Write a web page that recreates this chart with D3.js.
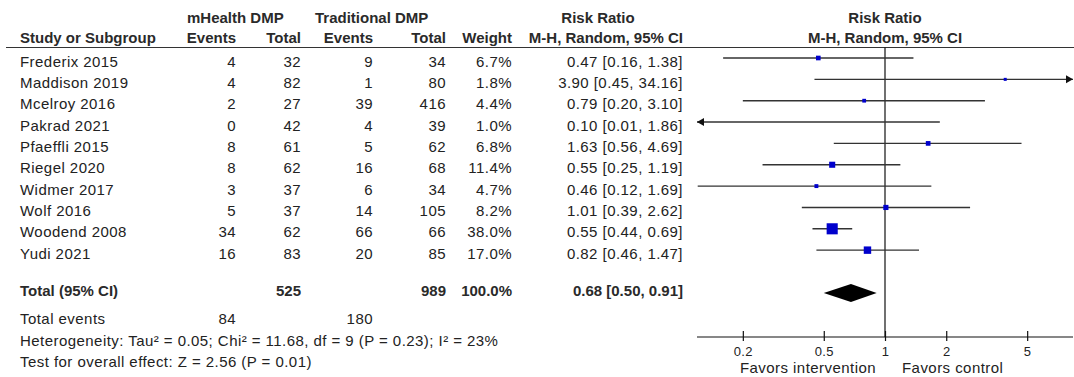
<!DOCTYPE html>
<html>
<head>
<meta charset="utf-8">
<script src="https://cdn.jsdelivr.net/npm/d3@7"></script>
<style>
  body { margin: 0; background: #fff; }
  svg { display: block; font-family: "Liberation Sans", Arial, sans-serif; }
  .t { font-size: 15px; fill: #222; letter-spacing: 0.45px; }
  .b { font-size: 15px; font-weight: 700; fill: #2a2a2a; }
</style>
</head>
<body>
<svg id="chart" width="1074" height="377"></svg>
<script>
// données
const studies = ['Frederix 2015', 'Maddison 2019', 'Mcelroy 2016', 'Pakrad 2021', 'Pfaeffli 2015',
  'Riegel 2020', 'Widmer 2017', 'Wolf 2016', 'Woodend 2008', 'Yudi 2021'];
const mEvents = [4, 4, 2, 0, 8, 8, 3, 5, 34, 16];
const mTotal = [32, 82, 27, 42, 61, 62, 37, 37, 62, 83];
const tEvents = [9, 1, 39, 4, 5, 16, 6, 14, 66, 20];
const tTotal = [34, 80, 416, 39, 62, 68, 34, 105, 66, 85];
const weights = [6.7, 1.8, 4.4, 1.0, 6.8, 11.4, 4.7, 8.2, 38.0, 17.0];
const rr = [0.47, 3.90, 0.79, 0.10, 1.63, 0.55, 0.46, 1.01, 0.55, 0.82];
const lo = [0.16, 0.45, 0.20, 0.01, 0.56, 0.25, 0.12, 0.39, 0.44, 0.46];
const hi = [1.38, 34.16, 3.10, 1.86, 4.69, 1.19, 1.69, 2.62, 0.69, 1.47];
const total = { n1: 525, n2: 989, w: 100.0, rr: 0.68, lo: 0.50, hi: 0.91, e1: 84, e2: 180 };
const ticks = [0.2, 0.5, 1, 2, 5];
const footer = [
  'Heterogeneity: Tau\u00b2 = 0.05; Chi\u00b2 = 11.68, df = 9 (P = 0.23); I\u00b2 = 23%',
  'Test for overall effect: Z = 2.56 (P = 0.01)'
];

const svg = d3.select('#chart');
const f2 = d => d.toFixed(2);

// colonnes du tableau (bord droit)
const COL = { name: 20, e1: 236, n1: 301, e2: 373, n2: 446, w: 512, ci: 683 };
const rowY = d3.scaleLinear().domain([0, 1]).range([58, 79.35]);
const yTotal = 293;

// échelle log de la partie graphique
const x = d3.scaleLog().domain([0.1, 10]).range([681.6, 1088.4]);
const xMin = 697, xMax = 1073;

function txt(cls, xx, yy, s, anchor) {
  return svg.append('text').attr('class', cls).attr('x', xx).attr('y', yy)
    .attr('text-anchor', anchor || 'start').text(s);
}

// en-têtes
txt('b', 187, 22.5, 'mHealth DMP');
txt('b', 315, 22.5, 'Traditional DMP');
txt('b', 598, 22.5, 'Risk Ratio', 'middle');
txt('b', 885, 22.5, 'Risk Ratio', 'middle');
txt('b', COL.name, 43.3, 'Study or Subgroup');
txt('b', COL.e1, 43.3, 'Events', 'end');
txt('b', COL.n1, 43.3, 'Total', 'end');
txt('b', COL.e2, 43.3, 'Events', 'end');
txt('b', COL.n2, 43.3, 'Total', 'end');
txt('b', COL.w, 43.3, 'Weight', 'end');
txt('b', COL.ci, 43.3, 'M-H, Random, 95% CI', 'end');
txt('b', 885, 43.3, 'M-H, Random, 95% CI', 'middle');

svg.append('line').attr('x1', 6).attr('x2', 1074).attr('y1', 47.5).attr('y2', 47.5)
  .attr('stroke', '#333').attr('stroke-width', 1.2);

// lignes des études
const rows = svg.append('g').selectAll('g').data(studies).enter().append('g');
const cols = [
  [COL.name, 'start', (d, i) => d],
  [COL.e1, 'end', (d, i) => mEvents[i]],
  [COL.n1, 'end', (d, i) => mTotal[i]],
  [COL.e2, 'end', (d, i) => tEvents[i]],
  [COL.n2, 'end', (d, i) => tTotal[i]],
  [COL.w, 'end', (d, i) => weights[i].toFixed(1) + '%'],
  [COL.ci, 'end', (d, i) => `${f2(rr[i])} [${f2(lo[i])}, ${f2(hi[i])}]`]
];
cols.forEach(([cx, anchor, fn]) => {
  rows.append('text').attr('class', 't').attr('x', cx).attr('y', (d, i) => rowY(i) + 8.5)
    .attr('text-anchor', anchor).text(fn);
});

// ligne de non-effet
svg.append('line').attr('x1', x(1)).attr('x2', x(1)).attr('y1', 47.5).attr('y2', 337)
  .attr('stroke', '#111').attr('stroke-width', 1.2);

// IC
const ci = svg.append('g');
studies.forEach((s, i) => {
  const y = rowY(i);
  const x1 = Math.max(xMin, x(lo[i])), x2 = Math.min(xMax, x(hi[i]));
  ci.append('line').attr('x1', x1).attr('x2', x2).attr('y1', y).attr('y2', y)
    .attr('stroke', '#333').attr('stroke-width', 1.4);
  if (x(hi[i]) > xMax) {
    ci.append('path').attr('d', `M${xMax},${y} L${xMax - 7},${y - 4} L${xMax - 7},${y + 4} Z`).attr('fill', '#111');
  }
  if (x(lo[i]) < xMin) {
    ci.append('path').attr('d', `M${xMin},${y} L${xMin + 7},${y - 4} L${xMin + 7},${y + 4} Z`).attr('fill', '#111');
  }
  // point hors de l'axe : non dessiné
  const px = x(rr[i]);
  if (px < xMin || px > xMax) return;
  const sz = Math.max(3, 1.8 * Math.sqrt(weights[i]));
  ci.append('rect').attr('x', px - sz / 2).attr('y', y - sz / 2)
    .attr('width', sz).attr('height', sz).attr('fill', '#0000cc');
});

// total
txt('b', COL.name, 296, 'Total (95% CI)');
txt('b', COL.n1, 296, total.n1, 'end');
txt('b', COL.n2, 296, total.n2, 'end');
txt('b', COL.w, 296, total.w.toFixed(1) + '%', 'end');
txt('b', COL.ci, 296, `${f2(total.rr)} [${f2(total.lo)}, ${f2(total.hi)}]`, 'end');
svg.append('path')
  .attr('d', `M${x(total.lo)},${yTotal} L${x(total.rr)},${yTotal - 9} L${x(total.hi)},${yTotal} L${x(total.rr)},${yTotal + 9} Z`)
  .attr('fill', '#000');

txt('t', COL.name, 324, 'Total events');
txt('t', COL.e1, 324, total.e1, 'end');
txt('t', COL.e2, 324, total.e2, 'end');
txt('t', COL.name, 346, footer[0]);
txt('t', COL.name, 367, footer[1]);

// axe
const ax = svg.append('g').attr('transform', 'translate(0,337)')
  .call(d3.axisBottom(x).tickValues(ticks).tickFormat(d3.format('')).tickSize(0).tickPadding(0));
ax.select('.domain').remove();
ax.append('line').attr('x1', xMin).attr('x2', xMax).attr('stroke', '#111').attr('stroke-width', 1.2);
ax.selectAll('.tick').append('line').attr('y1', -6).attr('y2', 4).attr('stroke', '#111').attr('stroke-width', 1.2);
ax.selectAll('.tick text').attr('y', 19).attr('dy', null)
  .attr('font-family', '"Liberation Sans", Arial, sans-serif').attr('font-size', 13)
  .attr('letter-spacing', '0.4px').attr('fill', '#222');

txt('t', 876, 373, 'Favors intervention', 'end');
txt('t', 902, 373, 'Favors control');
</script>
</body>
</html>
